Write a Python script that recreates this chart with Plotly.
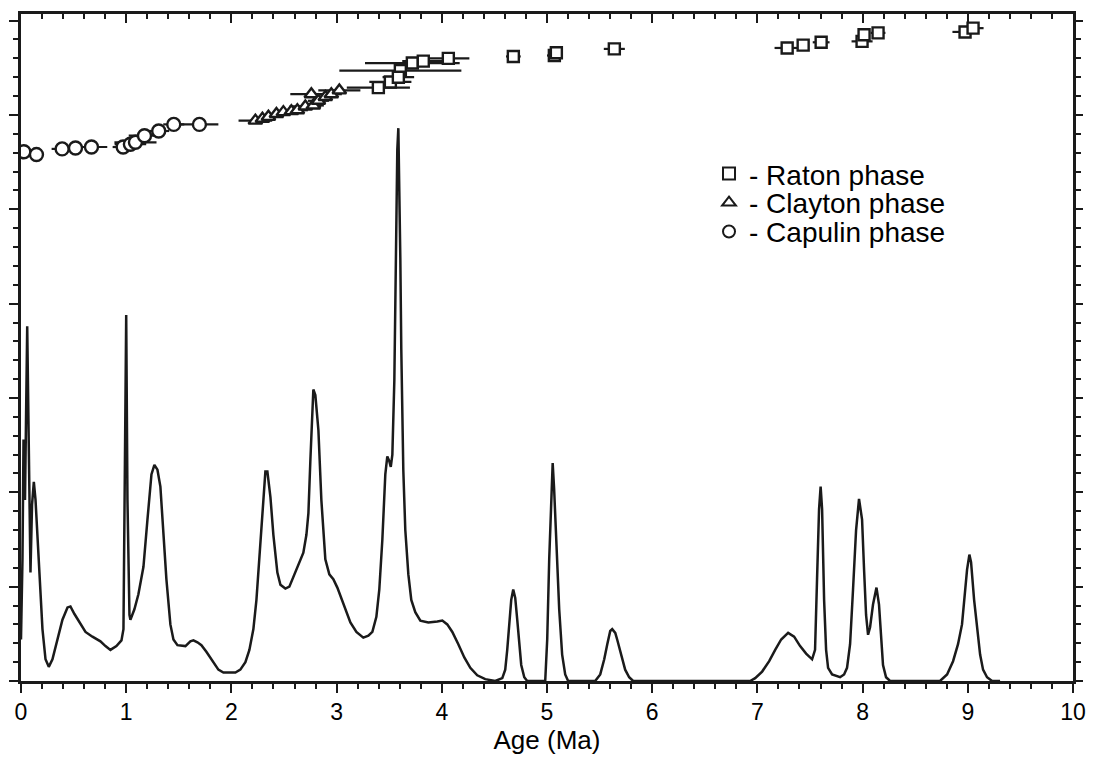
import plotly.graph_objects as go

# ---- probability density curve (age in Ma, relative probability) ----
curve_age = [0.000, 0.014, 0.024, 0.038, 0.059, 0.076, 0.090, 0.105, 0.122, 0.138, 0.166, 0.204, 0.233, 0.264,
             0.299, 0.347, 0.394, 0.442, 0.470, 0.508, 0.565, 0.613, 0.679, 0.755, 0.803, 0.850, 0.907, 0.955,
             0.974, 0.988, 1.000, 1.012, 1.031, 1.040, 1.078, 1.116, 1.164, 1.202, 1.240, 1.268, 1.297, 1.325,
             1.354, 1.382, 1.420, 1.449, 1.487, 1.563, 1.610, 1.639, 1.677, 1.715, 1.762, 1.819, 1.876, 1.924,
             2.038, 2.085, 2.133, 2.171, 2.209, 2.238, 2.266, 2.295, 2.323, 2.342, 2.371, 2.399, 2.437, 2.466,
             2.513, 2.551, 2.589, 2.637, 2.684, 2.713, 2.732, 2.751, 2.779, 2.798, 2.827, 2.855, 2.893, 2.931,
             2.969, 3.007, 3.045, 3.083, 3.131, 3.188, 3.254, 3.302, 3.340, 3.378, 3.406, 3.435, 3.463, 3.482,
             3.501, 3.515, 3.530, 3.549, 3.563, 3.577, 3.587, 3.596, 3.606, 3.615, 3.634, 3.653, 3.682, 3.710,
             3.748, 3.796, 3.872, 3.957, 4.005, 4.052, 4.100, 4.157, 4.214, 4.271, 4.337, 4.413, 4.508, 4.575,
             4.603, 4.622, 4.641, 4.660, 4.679, 4.698, 4.717, 4.736, 4.755, 4.784, 4.812, 4.983, 5.002, 5.021,
             5.040, 5.054, 5.068, 5.087, 5.116, 5.144, 5.173, 5.201, 5.458, 5.506, 5.544, 5.573, 5.601, 5.620,
             5.649, 5.667, 5.705, 5.743, 5.781, 5.819, 6.931, 6.979, 7.045, 7.112, 7.169, 7.226, 7.292, 7.349,
             7.406, 7.463, 7.520, 7.548, 7.567, 7.586, 7.601, 7.615, 7.634, 7.653, 7.672, 7.710, 7.786, 7.824,
             7.852, 7.881, 7.909, 7.938, 7.966, 7.995, 8.014, 8.033, 8.052, 8.071, 8.099, 8.132, 8.156, 8.175,
             8.194, 8.223, 8.261, 8.736, 8.803, 8.860, 8.907, 8.945, 8.974, 8.993, 9.015, 9.031, 9.060, 9.088,
             9.117, 9.145, 9.183, 9.231, 9.307]
curve_prob = [0.44, 1.29, 2.56, 1.92, 3.76, 2.45, 1.15, 1.87, 2.11, 1.92, 1.29, 0.55, 0.23, 0.15,
              0.23, 0.44, 0.65, 0.78, 0.79, 0.71, 0.60, 0.52, 0.47, 0.42, 0.37, 0.33, 0.37, 0.43,
              0.55, 2.45, 3.88, 1.92, 0.70, 0.65, 0.76, 0.92, 1.21, 1.71, 2.19, 2.29, 2.24, 2.06,
              1.60, 1.08, 0.60, 0.44, 0.38, 0.37, 0.42, 0.43, 0.41, 0.38, 0.31, 0.21, 0.12, 0.09,
              0.09, 0.12, 0.20, 0.33, 0.55, 0.86, 1.29, 1.82, 2.22, 2.22, 1.95, 1.55, 1.15, 1.02,
              0.98, 1.00, 1.10, 1.22, 1.36, 1.55, 1.78, 2.35, 3.09, 3.03, 2.66, 1.92, 1.29, 1.13,
              1.08, 0.99, 0.88, 0.76, 0.62, 0.52, 0.46, 0.48, 0.52, 0.68, 0.97, 1.50, 2.19, 2.38,
              2.33, 2.27, 2.40, 3.19, 4.46, 5.63, 5.86, 5.31, 4.46, 3.51, 2.24, 1.60, 1.13, 0.86,
              0.73, 0.64, 0.62, 0.63, 0.64, 0.60, 0.52, 0.39, 0.25, 0.14, 0.06, 0.02, 0.00, 0.03,
              0.12, 0.33, 0.60, 0.86, 0.97, 0.88, 0.65, 0.39, 0.17, 0.04, 0.00, 0.00, 0.44, 1.29,
              2.03, 2.31, 2.03, 1.50, 0.76, 0.28, 0.07, 0.00, 0.00, 0.07, 0.23, 0.39, 0.53, 0.55,
              0.51, 0.44, 0.28, 0.12, 0.04, 0.00, 0.00, 0.03, 0.10, 0.21, 0.33, 0.44, 0.51, 0.47,
              0.37, 0.29, 0.23, 0.33, 1.08, 1.82, 2.06, 1.82, 0.86, 0.33, 0.14, 0.07, 0.04, 0.07,
              0.14, 0.39, 0.97, 1.60, 1.93, 1.71, 1.18, 0.70, 0.49, 0.57, 0.81, 0.99, 0.81, 0.44,
              0.17, 0.04, 0.00, 0.00, 0.07, 0.21, 0.39, 0.60, 0.92, 1.18, 1.34, 1.26, 0.86, 0.55,
              0.28, 0.12, 0.04, 0.00, 0.00]

# ---- dated samples: age (Ma), plotting position, 1-sigma error ----
raton_age = [3.397, 3.511, 3.606, 3.587, 3.720, 3.824, 4.062, 4.680, 5.070, 5.089, 5.640,
             7.283, 7.435, 7.606, 7.995, 8.014, 8.147, 8.974, 9.050]
raton_pos = [6.29, 6.35, 6.47, 6.40, 6.55, 6.57, 6.60, 6.62, 6.63, 6.66, 6.70,
             6.71, 6.74, 6.77, 6.78, 6.85, 6.87, 6.88, 6.92]
raton_err = [0.30, 0.20, 0.58, 0.15, 0.45, 0.20, 0.20, 0.07, 0.07, 0.05, 0.10,
             0.12, 0.05, 0.08, 0.10, 0.05, 0.07, 0.12, 0.10]

clayton_age = [2.228, 2.295, 2.352, 2.428, 2.494, 2.570, 2.627, 2.703, 2.760, 2.779, 2.827,
               2.893, 2.950, 3.026]
clayton_pos = [5.94, 5.96, 5.98, 6.01, 6.03, 6.04, 6.05, 6.09, 6.22, 6.10, 6.15,
               6.19, 6.22, 6.26]
clayton_err = [0.16, 0.05, 0.05, 0.10, 0.08, 0.10, 0.10, 0.15, 0.20, 0.10, 0.10,
               0.10, 0.10, 0.20]

capulin_age = [0.027, 0.147, 0.391, 0.518, 0.670, 0.971, 1.040, 1.088, 1.174, 1.309, 1.452, 1.696]
capulin_pos = [5.61, 5.58, 5.64, 5.65, 5.66, 5.66, 5.69, 5.71, 5.78, 5.83, 5.90, 5.90]
capulin_err = [0.05, 0.07, 0.10, 0.05, 0.15, 0.10, 0.15, 0.20, 0.15, 0.10, 0.10, 0.18]

x_ticks = list(range(0, 11))

INK = "#1a1a1a"
fig = go.Figure()

fig.add_trace(go.Scatter(x=curve_age, y=curve_prob, mode="lines",
                         line=dict(color=INK, width=2.5), showlegend=False, hoverinfo="skip"))

def sample_trace(name, ages, pos, err, symbol, size, legend):
    return go.Scatter(
        x=ages, y=pos, mode="markers", name=name, legend=legend,
        marker=dict(symbol=symbol, size=size, color="white", line=dict(color=INK, width=2.4)),
        error_x=dict(type="data", array=err, visible=True, color=INK, thickness=2.2, width=0),
    )

fig.add_trace(sample_trace("- Raton phase", raton_age, raton_pos, raton_err, "square", 11, "legend"))
fig.add_trace(sample_trace("- Clayton phase", clayton_age, clayton_pos, clayton_err, "triangle-up", 12, "legend2"))
fig.add_trace(sample_trace("- Capulin phase", capulin_age, capulin_pos, capulin_err, "circle", 13, "legend3"))

# invisible trace to carry the mirrored (top/right) axes
fig.add_trace(go.Scatter(x=curve_age, y=curve_prob, xaxis="x2", yaxis="y2", mode="lines",
                         line=dict(width=0), opacity=0, showlegend=False, hoverinfo="skip"))

YMAX = 7.07
common_x = dict(range=[0, 10], showgrid=False, zeroline=False, showline=True, linecolor=INK,
                linewidth=2.5, tickcolor=INK, tickwidth=2, tickvals=x_ticks, automargin=False)
common_y = dict(range=[0, YMAX], showgrid=False, zeroline=False, showline=True, linecolor=INK,
                linewidth=2.5, tickcolor=INK, tickwidth=2, dtick=1, tick0=0, showticklabels=False,
                automargin=False)

leg_common = dict(x=0.654, xanchor="left", yanchor="middle", bgcolor="rgba(0,0,0,0)",
                  font=dict(size=28, color="black"), itemsizing="constant", itemwidth=30)

fig.update_layout(
    width=1088, height=770,
    margin=dict(l=12.5, r=23, t=6, b=96.5),
    paper_bgcolor="white", plot_bgcolor="white",
    font=dict(family="Liberation Sans, Arial, sans-serif", color="black"),
    xaxis=dict(**common_x, ticks="outside", ticklen=9, ticktext=[str(v) for v in x_ticks],
               tickfont=dict(size=23), anchor="y",
               minor=dict(dtick=0.2, ticks="outside", ticklen=5, tickwidth=1.5, tickcolor=INK),
               title=dict(text="Age (Ma)", font=dict(size=26), standoff=0)),
    xaxis2=dict(**common_x, overlaying="x", side="top", anchor="y2", ticks="inside", ticklen=9,
                showticklabels=False,
                minor=dict(dtick=0.2, ticks="inside", ticklen=5, tickwidth=1.5, tickcolor=INK)),
    yaxis=dict(**common_y, ticks="outside", ticklen=9, anchor="x",
               minor=dict(dtick=0.2, ticks="outside", ticklen=5, tickwidth=1.5, tickcolor=INK)),
    yaxis2=dict(**common_y, overlaying="y", side="right", anchor="x2", ticks="outside", ticklen=7,
                minor=dict(dtick=0.2, ticks="outside", ticklen=5, tickwidth=1.5, tickcolor=INK)),
    legend=dict(**leg_common, y=0.7603),
    legend2=dict(**leg_common, y=0.7169),
    legend3=dict(**leg_common, y=0.6734),
)

fig.write_html("out.html")
